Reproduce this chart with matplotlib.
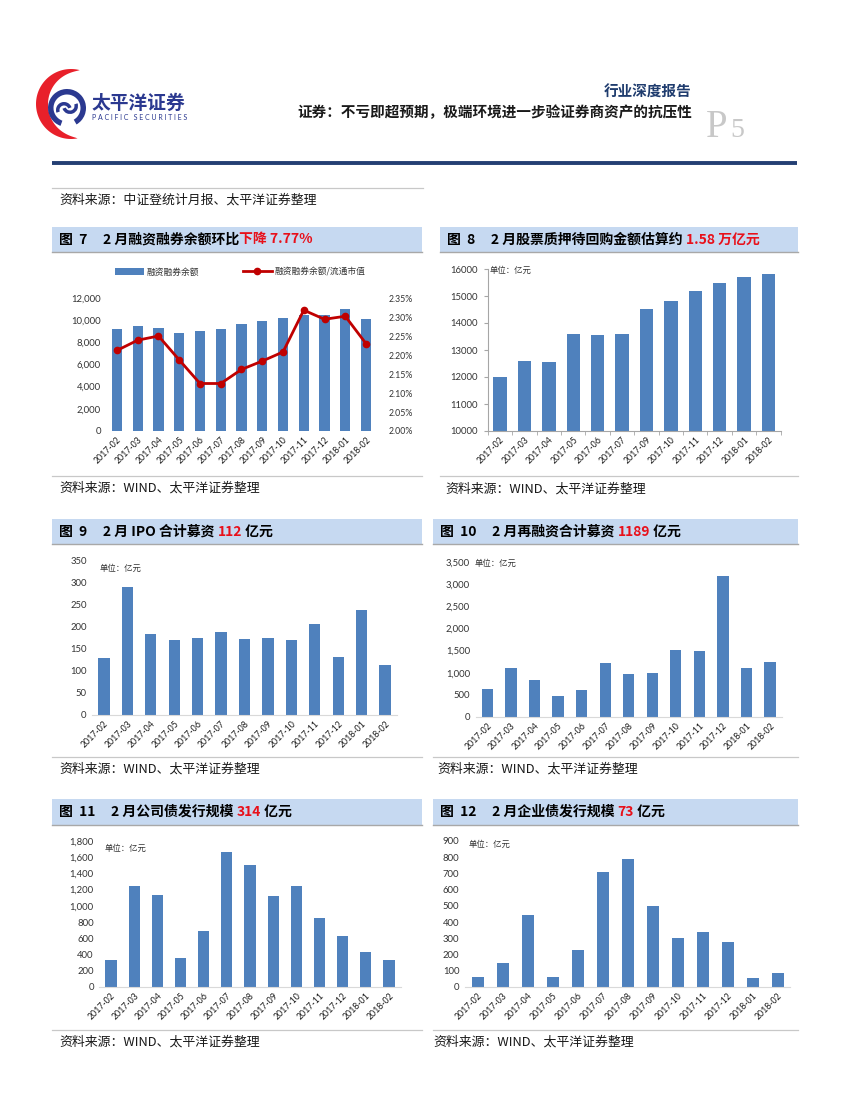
import numpy as np
import matplotlib
matplotlib.use("Agg")
import matplotlib.pyplot as plt
from matplotlib.patches import Rectangle, Polygon, Wedge
from matplotlib.ticker import FuncFormatter

plt.rcParams['font.family'] = ['Noto Sans CJK SC', 'DejaVu Sans']

# ---- data ----
months = ["2017-02", "2017-03", "2017-04", "2017-05", "2017-06", "2017-07", "2017-08",
          "2017-09", "2017-10", "2017-11", "2017-12", "2018-01", "2018-02"]
months_pledge = ["2017-02", "2017-03", "2017-04", "2017-05", "2017-06", "2017-07",
                 "2017-09", "2017-10", "2017-11", "2017-12", "2018-01", "2018-02"]

margin_balance = [9230, 9440, 9260, 8870, 8990, 9170, 9650, 9890, 10190, 10500, 10440, 11010, 10130]
margin_ratio = [2.212, 2.239, 2.250, 2.187, 2.125, 2.125, 2.162, 2.184, 2.208, 2.318, 2.294, 2.302, 2.230]
pledge = [12000, 12590, 12560, 13590, 13550, 13590, 14530, 14810, 15200, 15470, 15690, 15820]
ipo = [129, 290, 185, 170, 176, 188, 173, 176, 171, 206, 131, 239, 114]
refinance = [640, 1114, 843, 474, 617, 1211, 963, 1001, 1512, 1497, 3190, 1099, 1235]
corp_bond = [328, 1250, 1132, 361, 693, 1669, 1509, 1123, 1246, 849, 623, 426, 338]
ent_bond = [59, 146, 443, 59, 228, 711, 791, 500, 301, 336, 275, 57, 86]

BLUE = "#4f81bd"
RED_LINE = "#c00000"
RED_TXT = "#e8101a"
BAR_BG = "#c6d9f1"
TICK_C = "#333333"
LAT = ["Lato", "DejaVu Sans"]

W, H = 850, 1100
fig = plt.figure(figsize=(8.5, 11), dpi=100)
bg = fig.add_axes([0, 0, 1, 1], zorder=0)
bg.set_xlim(0, W)
bg.set_ylim(H, 0)
bg.axis("off")


def px_axes(x0, x1, ytop, ybot):
    return fig.add_axes([x0 / W, 1 - ybot / H, (x1 - x0) / W, (ybot - ytop) / H], zorder=2)


# ---- header ----
t = np.linspace(0.42 * np.pi, 1.56 * np.pi, 80)
cx, cy, R = 71, 104, 35
thick = 12 * np.sin(np.pi * (t - t[0]) / (t[-1] - t[0])) ** 0.8
outer = np.c_[cx + R * np.cos(t), cy - R * np.sin(t)]
inner = np.c_[cx + (R - thick) * np.cos(t), cy - (R - thick) * np.sin(t)][::-1]
bg.add_patch(Polygon(np.r_[outer, inner], closed=True, color="#e8202a", lw=0))
bg.add_patch(Wedge((67, 108), 19, -250, 60, width=5.5, color="#2b3990", lw=0))
bg.add_patch(Wedge((64, 110), 8, 160, 340, width=3.5, color="#2b3990", lw=0))
bg.add_patch(Wedge((70, 106), 8, -20, 160, width=3.5, color="#2b3990", lw=0))
bg.text(92, 103, "太平洋证券", fontsize=13.5, fontweight="bold", color="#2b3990",
        va="center", ha="left")
bg.text(92, 117.5, "P A C I F I C   S E C U R I T I E S", fontsize=5, color="#2b3990",
        va="center", ha="left", family=LAT)

bg.text(692, 92, "行业深度报告", fontsize=10.5, fontweight="bold", color="#1f3c6e",
        va="center", ha="right")
bg.text(692, 112, "证券：不亏即超预期，极端环境进一步验证券商资产的抗压性", fontsize=10.5,
        fontweight="bold", color="#1a1a1a", va="center", ha="right")
bg.text(706, 137, "P", fontsize=28, color="#c8c8c8", family="Liberation Serif",
        va="baseline", ha="left")
bg.text(730, 137, "5", fontsize=20, color="#c8c8c8", family="Liberation Serif",
        va="baseline", ha="left")
bg.plot([52, 797], [163, 163], color="#243f73", lw=2.8, solid_capstyle="butt")


# ---- page furniture ----
def source(x0, x1, y_line, text_x, text_y, text):
    bg.plot([x0, x1], [y_line, y_line], color="#c8c8c8", lw=0.9)
    bg.text(text_x, text_y, text, fontsize=9.3, color="#1a1a1a", va="center", ha="left")


def title_bar(x0, x1, y0, y1, parts):
    bg.add_patch(Rectangle((x0, y0), x1 - x0, y1 - y0, color=BAR_BG, lw=0, zorder=1))
    bg.plot([x0, x1], [y1, y1], color="#a8a8a8", lw=1.0, zorder=2)
    prev = bg.text(x0 + 7, (y0 + y1) / 2, parts[0][0], color=parts[0][1], fontsize=10,
                   fontweight="bold", va="center", ha="left", zorder=3)
    for s, c in parts[1:]:
        prev = bg.annotate(s, xy=(1, 0), xycoords=prev, va="bottom", ha="left", color=c,
                           fontsize=10, fontweight="bold", zorder=3)


src_wind = "资料来源：WIND、太平洋证券整理"
source(52, 423, 188, 59, 200, "资料来源：中证登统计月报、太平洋证券整理")

title_bar(52, 422, 227, 252, [("图  7     2 月融资融券余额环比", "black"), ("下降 7.77%", RED_TXT)])
title_bar(440, 798, 227, 252, [("图  8     2 月股票质押待回购金额估算约 ", "black"),
                                ("1.58 万亿元", RED_TXT)])
title_bar(52, 422, 519, 544, [("图  9     2 月 IPO 合计募资 ", "black"), ("112", RED_TXT),
                              (" 亿元", "black")])
title_bar(433, 798, 519, 544, [("图  10     2 月再融资合计募资 ", "black"), ("1189", RED_TXT),
                               (" 亿元", "black")])
title_bar(52, 422, 799, 825, [("图  11     2 月公司债发行规模 ", "black"), ("314", RED_TXT),
                              (" 亿元", "black")])
title_bar(433, 798, 799, 825, [("图  12     2 月企业债发行规模 ", "black"), ("73", RED_TXT),
                               (" 亿元", "black")])

source(52, 422, 476, 59, 488, src_wind)
source(440, 798, 476, 445, 489, src_wind)
source(52, 422, 757, 59, 769, src_wind)
source(433, 798, 757, 437, 769, src_wind)
source(52, 422, 1030, 59, 1042, src_wind)
source(433, 798, 1030, 433, 1042, src_wind)


def style_axes(ax, labels, ymin, ymax, step, fmt):
    ax.set_xlim(-0.5, len(labels) - 0.5)
    ax.set_ylim(ymin, ymax)
    ax.set_yticks(np.arange(ymin, ymax + step / 2, step))
    ax.yaxis.set_major_formatter(FuncFormatter(fmt))
    ax.set_xticks(range(len(labels)))
    ax.set_xticklabels(labels, rotation=45, ha="right", rotation_mode="anchor")
    ax.tick_params(axis="x", length=0, pad=3, labelsize=6.3, labelcolor="#1a1a1a")
    ax.tick_params(axis="y", length=0, pad=4, labelsize=6.8, labelcolor=TICK_C)
    for lab in ax.get_xticklabels() + ax.get_yticklabels():
        lab.set_family(LAT)
    for s in ["top", "right", "left"]:
        ax.spines[s].set_visible(False)
    ax.spines["bottom"].set_color("#d9d9d9")
    ax.patch.set_alpha(0)


comma = lambda v, p: f"{v:,.0f}"
plain = lambda v, p: f"{v:.0f}"

# ---- Figure 7 ----
ax7 = px_axes(106.6, 376.4, 298, 431)
x = np.arange(len(months))
ax7.bar(x, margin_balance, width=0.5, color=BLUE, zorder=2, label="融资融券余额")
style_axes(ax7, months, 0, 12000, 2000, comma)
ax7.spines["bottom"].set_visible(False)
ax7r = ax7.twinx()
ax7r.plot(x, margin_ratio, color=RED_LINE, lw=2, marker="o", ms=4.5, zorder=3,
          label="融资融券余额/流通市值")
ax7r.set_ylim(2.0, 2.35)
ax7r.set_yticks(np.arange(2.0, 2.351, 0.05))
ax7r.yaxis.set_major_formatter(FuncFormatter(lambda v, p: f"{v:.2f}%"))
ax7r.tick_params(axis="y", length=0, pad=9, labelsize=6.3, labelcolor=TICK_C)
for lab in ax7r.get_yticklabels():
    lab.set_family(LAT)
for s in ax7r.spines.values():
    s.set_visible(False)
h1, l1 = ax7.get_legend_handles_labels()
h2, l2 = ax7r.get_legend_handles_labels()
leg = ax7.legend(h1 + h2, l1 + l2, ncol=2, loc="center", frameon=False, fontsize=6.3,
                 bbox_to_anchor=(240 / W, 1 - 272 / H), bbox_transform=fig.transFigure,
                 handlelength=3.3, handleheight=0.9, columnspacing=5, handletextpad=0.3)
for txt in leg.get_texts():
    txt.set_color(TICK_C)

# ---- Figure 8 ----
ax8 = px_axes(487.8, 780.7, 269, 431)
x = np.arange(len(months_pledge))
ax8.bar(x, pledge, width=0.55, color=BLUE, zorder=2)
style_axes(ax8, months_pledge, 10000, 16000, 1000, plain)
ax8.spines["left"].set_visible(True)
ax8.spines["left"].set_color("#a6a6a6")
ax8.spines["bottom"].set_color("#a6a6a6")
ax8.set_xticks(np.arange(-0.5, len(months_pledge), 1), minor=True)
ax8.tick_params(axis="x", which="minor", length=3, color="#a6a6a6")
ax8.tick_params(axis="y", length=3, color="#a6a6a6", direction="out")
ax8.text(490, 270, "单位：亿元", transform=bg.transData, fontsize=6, color=TICK_C,
         va="center", ha="left")

# ---- Figures 9-12 ----
simple_charts = [
    (ipo, (92.3, 396.7, 561, 715), (0, 350, 50, plain), (100, 568)),
    (refinance, (475.7, 781.8, 562, 717), (0, 3500, 500, comma), (475, 563)),
    (corp_bond, (99.4, 400.6, 841, 987), (0, 1800, 200, comma), (105, 848)),
    (ent_bond, (465, 790, 841, 987), (0, 900, 100, plain), (469, 844)),
]
for vals, rect, (lo, hi, step, fmt), (ux, uy) in simple_charts:
    ax = px_axes(*rect)
    x = np.arange(len(months))
    ax.bar(x, vals, width=0.48, color=BLUE, zorder=2)
    style_axes(ax, months, lo, hi, step, fmt)
    ax.spines["bottom"].set_zorder(3)
    ax.text(ux, uy, "单位：亿元", transform=bg.transData, fontsize=6, color=TICK_C,
            va="center", ha="left")

fig.savefig("out.png", dpi=100)
